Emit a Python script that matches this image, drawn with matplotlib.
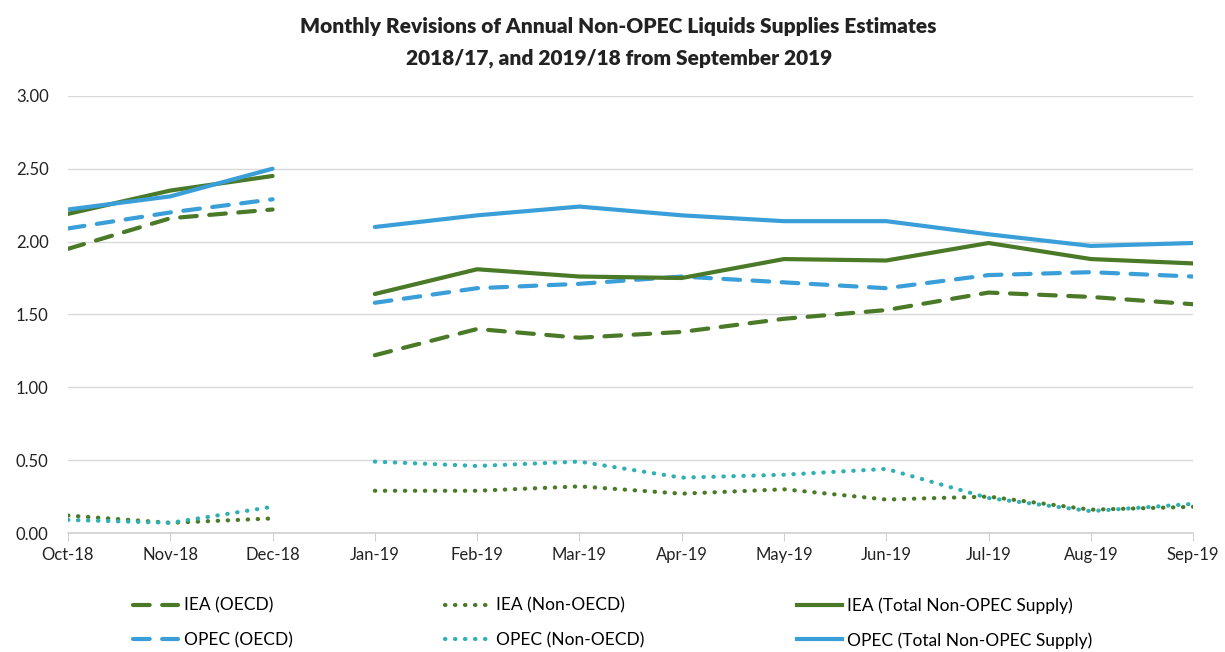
import numpy as np
import matplotlib.pyplot as plt
from matplotlib.lines import Line2D

plt.rcParams['font.family'] = ['Lato', 'DejaVu Sans']

months = ['Oct-18', 'Nov-18', 'Dec-18', 'Jan-19', 'Feb-19', 'Mar-19',
          'Apr-19', 'May-19', 'Jun-19', 'Jul-19', 'Aug-19', 'Sep-19']

iea_oecd = [1.95, 2.16, 2.22, 1.22, 1.40, 1.34, 1.38, 1.47, 1.53, 1.65, 1.62, 1.57]
iea_nonoecd = [0.12, 0.07, 0.10, 0.29, 0.29, 0.32, 0.27, 0.30, 0.23, 0.25, 0.16, 0.18]
iea_total = [2.19, 2.35, 2.45, 1.64, 1.81, 1.76, 1.75, 1.88, 1.87, 1.99, 1.88, 1.85]
opec_oecd = [2.09, 2.20, 2.29, 1.58, 1.68, 1.71, 1.76, 1.72, 1.68, 1.77, 1.79, 1.76]
opec_nonoecd = [0.09, 0.07, 0.18, 0.49, 0.46, 0.49, 0.38, 0.40, 0.44, 0.24, 0.15, 0.20]
opec_total = [2.22, 2.31, 2.50, 2.10, 2.18, 2.24, 2.18, 2.14, 2.14, 2.05, 1.97, 1.99]

green = '#4a7a28'
blue = '#3a9fd8'
teal = '#2fb0b5'

series = [
    ('IEA (OECD)', iea_oecd, green, (0, (4, 3)), 3),
    ('OPEC (OECD)', opec_oecd, blue, (0, (4, 3)), 3),
    ('IEA (Non-OECD)', iea_nonoecd, green, (0, (0.1, 2.3)), 3),
    ('OPEC (Non-OECD)', opec_nonoecd, teal, (0, (0.1, 2.3)), 3),
    ('IEA (Total Non-OPEC Supply)', iea_total, green, '-', 3),
    ('OPEC (Total Non-OPEC Supply)', opec_total, blue, '-', 3),
]

fig = plt.figure(figsize=(12.25, 6.52), dpi=100)
ax = fig.add_axes([0.0555, 0.1825, 0.9185, 0.6705])

x = np.arange(len(months))
handles = []
for label, vals, col, ls, lw in series:
    vals = np.array(vals)
    # break between Dec-18 and Jan-19
    ax.plot(x[:3], vals[:3], color=col, linestyle=ls, linewidth=lw,
            dash_capstyle='round', solid_capstyle='round')
    ax.plot(x[3:], vals[3:], color=col, linestyle=ls, linewidth=lw,
            dash_capstyle='round', solid_capstyle='round')
    handles.append(Line2D([0], [0], color=col, linestyle=ls, linewidth=lw,
                          dash_capstyle='round', label=label))

ax.set_xlim(0, len(months) - 1)
ax.set_ylim(0, 3)
ax.set_yticks(np.arange(0, 3.01, 0.5))
ax.set_yticklabels(['%.2f' % v for v in np.arange(0, 3.01, 0.5)])
ax.set_xticks(x)
ax.set_xticklabels(months)
ax.tick_params(axis='y', length=0, labelsize=12, pad=14, labelcolor='#222222')
ax.tick_params(axis='x', length=6, color='#d0d0d0', labelsize=12, pad=4,
               labelcolor='#222222')
ax.grid(axis='y', color='#d9d9d9', linewidth=1)
ax.set_axisbelow(True)
for s in ['top', 'right', 'left']:
    ax.spines[s].set_visible(False)
ax.spines['bottom'].set_color('#d0d0d0')
ax.spines['bottom'].set_linewidth(1.2)

fig.text(0.505, 0.960, 'Monthly Revisions of Annual Non-OPEC Liquids Supplies Estimates',
         ha='center', va='center', fontsize=15, fontweight='heavy', color='#222222')
fig.text(0.505, 0.911, '2018/17, and 2019/18 from September 2019',
         ha='center', va='center', fontsize=15, fontweight='heavy', color='#222222')

fig.legend(handles=handles, loc='upper left', bbox_to_anchor=(0.096, 0.108),
           ncol=3, frameon=False, fontsize=12.5, handlelength=2.6,
           columnspacing=8.8, labelspacing=1.05, handletextpad=0.3)

plt.savefig('out.png', dpi=100)
